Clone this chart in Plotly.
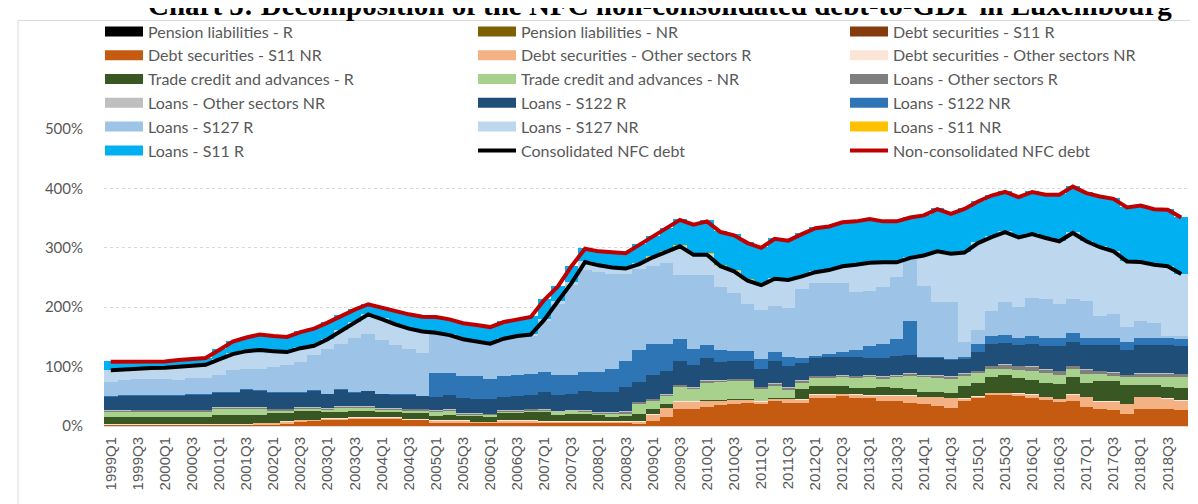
import plotly.graph_objects as go

# ---------------- data ----------------
quarters = [
    "1999Q1","1999Q2","1999Q3","1999Q4","2000Q1","2000Q2","2000Q3","2000Q4",
    "2001Q1","2001Q2","2001Q3","2001Q4","2002Q1","2002Q2","2002Q3","2002Q4",
    "2003Q1","2003Q2","2003Q3","2003Q4","2004Q1","2004Q2","2004Q3","2004Q4",
    "2005Q1","2005Q2","2005Q3","2005Q4","2006Q1","2006Q2","2006Q3","2006Q4",
    "2007Q1","2007Q2","2007Q3","2007Q4","2008Q1","2008Q2","2008Q3","2008Q4",
    "2009Q1","2009Q2","2009Q3","2009Q4","2010Q1","2010Q2","2010Q3","2010Q4",
    "2011Q1","2011Q2","2011Q3","2011Q4","2012Q1","2012Q2","2012Q3","2012Q4",
    "2013Q1","2013Q2","2013Q3","2013Q4","2014Q1","2014Q2","2014Q3","2014Q4",
    "2015Q1","2015Q2","2015Q3","2015Q4","2016Q1","2016Q2","2016Q3","2016Q4",
    "2017Q1","2017Q2","2017Q3","2017Q4","2018Q1","2018Q2","2018Q3","2018Q4",
]

tick_labels = [
    "1999Q1","1999Q3","2000Q1","2000Q3","2001Q1","2001Q3","2002Q1","2002Q3",
    "2003Q1","2003Q3","2004Q1","2004Q3","2005Q1","2005Q3","2006Q1","2006Q3",
    "2007Q1","2007Q3","2008Q1","2008Q3","2009Q1","2009Q3","2010Q1","2010Q3",
    "2011Q1","2011Q3","2012Q1","2012Q3","2013Q1","2013Q3","2014Q1","2014Q3",
    "2015Q1","2015Q3","2016Q1","2016Q3","2017Q1","2017Q3","2018Q1","2018Q3",
]

pension_r = [
    0,0,0,0,0,0,0,0,0,0, 0,0,0,0,0,0,0,0,0,0, 0,0,0,0,0,0,0,0,0,0, 0,0,0,0,0,0,0,0,0,0,
    0,0,0,0,0,0,0,0,0,0, 0,0,0,0,0,0,0,0,0,0, 0,0,0,0,0,0,0,0,0,0, 0,0,0,0,0,0,0,0,0,0,
]
pension_nr = [
    0.2,0.2,0.2,0.2,0.2,0.2,0.2,0.2,0.2,0.2, 0.2,0.2,0.2,0.2,0.2,0.2,0.2,0.2,0.2,0.2,
    0.2,0.2,0.2,0.2,0.2,0.2,0.2,0.2,0.2,0.2, 0.2,0.2,0.2,0.2,0.2,0.2,0.2,0.2,0.2,0.2,
    0.2,0.2,0.2,0.2,0.2,0.2,0.2,0.2,0.2,0.2, 0.2,0.2,0.2,0.2,0.2,0.2,0.2,0.2,0.2,0.2,
    0.2,0.2,0.2,0.2,0.2,0.2,0.2,0.2,0.2,0.2, 0.2,0.2,0.2,0.2,0.2,0.2,0.2,0.2,0.2,0.2,
]
debt_s11_r = [
    0.2,0.2,0.2,0.2,0.2,0.2,0.2,0.2,0.2,0.2, 0.2,0.2,0.2,0.2,0.2,0.2,0.2,0.2,0.2,0.2,
    0.2,0.2,0.2,0.2,0.2,0.2,0.2,0.2,0.2,0.2, 0.2,0.2,0.2,0.2,0.2,0.2,0.2,0.2,0.2,0.2,
    0.2,0.2,0.2,0.2,0.2,0.2,0.2,0.2,0.2,0.2, 0.2,0.2,0.2,0.2,0.2,0.2,0.2,0.2,0.2,0.2,
    0.2,0.2,0.2,0.2,0.2,0.2,0.2,0.2,0.2,0.2, 0.2,0.2,0.2,0.2,0.2,0.2,0.2,0.2,0.2,0.2,
]
debt_s11_nr = [
    1.5,1.5,1.5,1.5,1.5,1.5,1.5,1.5,1.5,1.5, 1.5,2,2,4,8,9,10,10,12,12,
    12,12,10,10,5.5,5.5,5.5,5.5,5.5,5.5, 5.5,5.5,5,5,5,5,5,5,5,3,
    8,15,28,28,32,35,36,38.5,36,41.5, 38.5,38.5,47,47,51.5,47,47,41.5,41.5,38.5,
    36,33,30,41,46,52.5,51.5,51.5,47,43, 40.5,42.5,31.5,29,26,20,29,27.5,27.5,26,
]
debt_other_r = [
    1,1,1,1,1,1,1,1,1,1, 1,3,3,3,2,1,2,2,2,2,
    2,2,1,1,3.5,3.5,3.5,1,1,4, 4,4,2,2,2,2,2,2,2,5,
    11,15,13.5,13.5,10,8,8,6,5.5,4.5, 7.5,6,5.5,5.5,2,5.5,4.5,10,10,13,
    12.5,15.5,17,5,4,3,4,3,5.5,5.5, 5,10,17,12.5,15.5,17,19.5,21,18.5,16.5,
]
debt_other_nr = [
    0.3,0.3,0.3,0.3,0.3,0.3,0.3,0.3,0.3,0.3, 0.3,0.3,0.3,0.3,0.3,0.3,0.3,0.3,0.3,0.3,
    0.3,0.3,0.3,0.3,0.3,0.3,0.3,0.3,0.3,0.3, 0.3,0.3,0.3,0.3,0.3,0.3,0.3,0.3,0.3,0.3,
    0.3,0.3,0.3,0.3,0.3,0.3,0.3,0.3,0.3,0.3, 0.3,0.3,0.3,0.3,0.3,0.3,0.3,0.3,0.3,0.3,
    0.3,0.3,0.3,0.3,0.3,0.3,0.3,0.3,0.3,0.3, 0.3,0.3,0.3,0.3,0.3,0.3,0.3,0.3,0.3,0.3,
]
trade_r = [
    12.5,12.5,12.5,12.5,12.5,12.5,12.5,12.5,15.5,15.5, 15.5,13,17,15,14,14,11.5,11.5,11,11,
    8.5,8.5,10,10,6.5,9,6.5,10.5,9,13, 13,14,17,10,13,12,10,8,9,12,
    9,7,0.5,0.5,0.5,0.5,0.5,0.5,0.5,0.5, 0.5,16.5,14.5,14.5,13.5,11.5,11,13.5,12.5,9.5,
    8.5,8.5,8.5,20,22.5,27,29,25,24,24, 25,30,24,33.5,33.5,31,19.5,19.5,19,20.5,
]
trade_nr = [
    8,8,9,9,9,9,9,9,10,10, 10,10,4,4,4,4,3.5,6.5,5,5,
    4.5,4.5,5,5,8.5,7,3.5,2,2.5,1.5, 1.5,2.5,2,6,5,5,4,5,4,16,
    14,13,23,20.5,30,30,31,30.5,20,21.5, 14.5,12,13.5,13.5,15,16.5,19.5,14.5,18,23.5,
    25,24.5,24,18,16.5,12.5,11.5,14,15.5,16.5, 15,12.5,15,11.5,8.5,14,14,14,17,18,
]
loans_other_r = [
    2.5,2.5,2.5,2.5,2.5,2.5,2.5,2.5,2,2, 2,2,2,2,2,2,2,2,2,2,
    2,2,2,2,2,2,2,2,1.5,2, 2,2,1.5,1,1,1,1,2,3.5,4,
    3,3,3.5,2,3,3,3,3,3,3, 3,3,3,3,3,3,3,3,3,3,
    3,3,3,3.5,3,5.5,7,7,7.5,6, 6.5,5.5,7.5,5.5,5.5,3.5,6,6,6,6,
]
loans_other_nr = [
    0.5,0.5,0.5,0.5,0.5,0.5,0.5,0.5,0.5,0.5, 0.5,0.5,0.5,0.5,0.5,0.5,0.5,0.5,0.5,0.5,
    0.5,0.5,0.5,0.5,0.5,0.5,0.5,0.5,0.5,0.5, 0.5,0.5,0.5,0.5,0.5,0.5,0.5,0.5,0.5,0.5,
    0.5,0.5,0.5,0.5,0.5,0.5,0.5,0.5,0.5,0.5, 0.5,0.5,0.5,0.5,0.5,0.5,0.5,0.5,0.5,0.5,
    0.5,0.5,0.5,0.5,0.5,0.5,0.5,0.5,0.5,0.5, 0.5,0.5,0.5,0.5,0.5,0.5,0.5,0.5,0.5,0.5,
]
loans_s122_r = [
    23,25,24,24,24,24,26,26,26,26, 30.5,28.5,28,28,26,28.5,24,28.5,24,26,
    24,22.5,23.5,21.5,21.5,23.5,25,24,24.5,21.5, 23.5,23.5,28,27.5,26.5,32,34.5,34.5,40.5,32.5,
    40,39,39.5,36.5,38,30,29.5,29.5,30,36.5, 36.5,29,31,31,29.5,31,28.5,30.5,31,30,
    29.5,30,28,24.5,31,36.5,35.5,35.5,37.5,39, 42,40.5,41,44,47,41.5,47,47,47,47,
]
loans_s122_nr = [
    0.5,0.5,0.5,0.5,0.5,0.5,0.5,0.5,0.5,0.5, 0.5,0.5,0.5,0.5,0.5,0.5,0.5,0.5,0.5,0.5,
    0.5,0.5,0.5,0.5,40.5,37.5,37,37.5,34.5,35.5, 35.5,35.5,33.5,33.5,32.5,32,32.5,38.5,44,54.5,
    52,45,37.5,28,21,21,17.5,17,16.5,15.5, 14,8,2.5,5.5,9.5,13,20.5,24,29,58.5,
    1,1,1,2.5,14,13,13.5,11,13,13, 13,14.5,11,11,11,14,12,12,12,12,
]
loans_s127_r = [
    23.5,24.5,27,27,27.5,25.5,26,26,28.5,36, 34.5,36.5,41,44.5,49.5,59,74.5,76,90.5,94.5,
    89.5,83,76,71,69,65,63,60.5,60,61, 63,63,86,120,151,172.5,168.5,160,147,136,
    132,135.5,107,123.5,118,105,97,79.5,82.5,78.5, 83,116.5,122,119,115,96.5,92.5,96.5,104,104,
    119.5,91.5,95.5,26.5,23.5,43,55,51.5,64,65.5, 57,57,62,37.5,40.5,24,28,25,3,4,
]
loans_s127_nr = [
    21,19.5,19,19,19,23,21.5,23.5,27,28.5, 30.5,32.5,28.5,23.5,25,17,18,23,27,35,
    37,36,36,38,0,0,0,0,0,3, 3.5,4,4,5,4.5,14.5,13,12,10,9.5,
    15,20.5,50.5,36.5,36.5,37,38.5,40.5,43,46.5, 48.5,22.5,20,23.5,30,47.5,48.5,42,26.5,3,
    52,87,83,151,147.5,125,119.5,119,109,104, 107,112.5,102,116.5,106.5,112,101,99.5,119,105,
]
loans_s11_nr = [
    0,0,0,0,0,0,0,0,0,0, 0,0,0,0,0,0,0,0,0,0, 0,0,0,0,0,0,0,0,0,0, 0,0,0,0,0,0,0,0,0,0,
    0.5,0.5,0.5,0.5,0.5,0.5,0.5,0.5,0.5,0.5, 0,0,0,0,0,0,0,0,0,0, 0,0,0,0,0,0,0,0,0,0, 0,0,0,0,0,0,0,0,0,0,
]
loans_s11_r = [
    14,12.5,10.5,10.5,10.5,11,11,11.5,16,21, 23,26,25.5,25.5,27,29,28,25,22,17,
    19,21.5,24,25,26.5,26.5,27,27,28,28, 28,29.5,33.5,25,28.5,22.5,23.5,25,26,32.5,
    35,39,44.5,50.5,56,57.5,60.5,63.5,63,67, 66,71,74,73.5,74,73,73.5,69,69,68,
    67.5,71,67,73.5,70,70,67.5,68,71,73, 78.5,78,81,85.5,88.5,91,95,93.5,95,95,
]
consolidated = [
    94,95.5,97.5,97.5,98,100,101,103,112,121, 126,128,126,124.5,131,135,146,160,174,188,
    180,171,164,159,157,153,146,143,138.5,147, 151.5,154,179,210,240.5,276,270.5,267,265,272.5,
    284,293,302.5,288.5,288.5,269,260.5,244.5,237,248, 246,252,259,262.5,269,271.5,275,275.5,275.5,283,
    287,294,290,292,308,318,326.5,317.5,323,316.5, 311,325,311,301,294,277,276,271.5,269,256,
]
non_consolidated = [
    108,108,108,108,108.5,111,112,114.5,128,142, 149,154,151.5,150,158,164,174,185,196,205,
    199,192.5,188,184,183.5,179.5,173,170,166.5,175, 179.5,183.5,212.5,235,269,298.5,294,292,291,305,
    319,332,347,339,344.5,326.5,321,308,300,315, 312,323,333,336,343,344.5,348.5,344.5,344.5,351,
    354.5,365,357,365.5,378,388,394,385.5,394,389.5, 389.5,403,392,386.5,382.5,368,371,365,364,351,
]

bar_series = [
    ("Pension liabilities - R", pension_r, "#000000"),
    ("Pension liabilities - NR", pension_nr, "#7F6000"),
    ("Debt securities - S11 R", debt_s11_r, "#843C0C"),
    ("Debt securities - S11 NR", debt_s11_nr, "#C55A11"),
    ("Debt securities - Other sectors R", debt_other_r, "#F4B183"),
    ("Debt securities - Other sectors NR", debt_other_nr, "#FBE5D6"),
    ("Trade credit and advances - R", trade_r, "#385723"),
    ("Trade credit and advances - NR", trade_nr, "#A9D18E"),
    ("Loans - Other sectors R", loans_other_r, "#7F7F7F"),
    ("Loans - Other sectors NR", loans_other_nr, "#BFBFBF"),
    ("Loans - S122 R", loans_s122_r, "#1F4E79"),
    ("Loans - S122 NR", loans_s122_nr, "#2E75B6"),
    ("Loans - S127 R", loans_s127_r, "#9DC3E6"),
    ("Loans - S127 NR", loans_s127_nr, "#BDD7EE"),
    ("Loans - S11 NR", loans_s11_nr, "#FFC000"),
    ("Loans - S11 R", loans_s11_r, "#00B0F0"),
]

legend_ids = ["legend", "legend2", "legend3"]

# ---------------- figure ----------------
fig = go.Figure()

for name, vals, color in bar_series:
    fig.add_trace(go.Bar(
        x=quarters, y=vals, name=name, marker=dict(color=color, line=dict(width=0)),
        showlegend=False, hoverinfo="x+y+name",
    ))

# legend-only entries with wide rectangular swatches, laid out in three columns
for k, (name, vals, color) in enumerate(bar_series):
    fig.add_trace(go.Scatter(
        x=[None], y=[None], mode="lines", name=name,
        line=dict(color=color, width=10), showlegend=True, hoverinfo="skip",
        legend=legend_ids[k % 3], legendgroup=name,
    ))

fig.add_trace(go.Scatter(
    x=quarters, y=consolidated, mode="lines", name="Consolidated NFC debt",
    line=dict(color="#000000", width=4), legend="legend2",
    legendgroup="Consolidated NFC debt",
))
fig.add_trace(go.Scatter(
    x=quarters, y=non_consolidated, mode="lines", name="Non-consolidated NFC debt",
    line=dict(color="#C00000", width=4), legend="legend3",
    legendgroup="Non-consolidated NFC debt",
))

L, R, T, B = 96, 18, 121, 86
W, H = 1198, 504
pw, ph = W - L - R, H - T - B

def px_x(px):
    return (px - L) / pw

def px_y(py):
    return (H - B - py) / ph

legend_style = dict(
    orientation="v", yanchor="top", xanchor="left",
    bgcolor="rgba(0,0,0,0)", font=dict(family="Lato", size=16, color="#595959"),
    itemwidth=38, traceorder="normal", tracegroupgap=0,
)

fig.update_layout(
    width=W, height=H,
    margin=dict(l=L, r=R, t=T, b=B, autoexpand=False),
    paper_bgcolor="white", plot_bgcolor="white",
    barmode="stack", bargap=0,
    font=dict(family="Lato", color="#595959"),
    legend=dict(x=px_x(92), y=px_y(6.5), **legend_style),
    legend2=dict(x=px_x(465), y=px_y(6.5), **legend_style),
    legend3=dict(x=px_x(837), y=px_y(6.5), **legend_style),
    xaxis=dict(
        type="category", categoryorder="array", categoryarray=quarters,
        range=[-0.5, len(quarters) - 0.5],
        tickmode="array", tickvals=tick_labels, ticktext=tick_labels,
        tickangle=-90, tickfont=dict(family="Liberation Sans", size=15, color="#595959"),
        showline=True, linecolor="#D9D9D9", linewidth=1, showgrid=False,
        ticks="", ticklabelstandoff=4,
    ),
    yaxis=dict(
        range=[0, 500], tickvals=[0, 100, 200, 300, 400, 500],
        ticktext=["0%", "100%", "200%", "300%", "400%", "500%"],
        tickfont=dict(family="Lato", size=15, color="#595959"),
        showgrid=True, gridcolor="#D9D9D9", griddash="dot", gridwidth=1,
        zeroline=False, showline=False, ticks="", ticklabelstandoff=20,
    ),
    shapes=[dict(
        type="rect", xref="paper", yref="paper",
        x0=px_x(10), x1=px_x(1230), y0=px_y(530), y1=px_y(12.5),
        line=dict(color="#D9D9D9", width=1), fillcolor="rgba(0,0,0,0)", layer="below",
    )],
    annotations=[dict(
        text="<b>Chart 5: Decomposition of the NFC non-consolidated debt-to-GDP in Luxembourg</b>",
        xref="paper", yref="paper", x=px_x(652), y=px_y(-2.5), xanchor="center", yanchor="middle",
        showarrow=False, font=dict(family="Liberation Serif", size=29, color="#000000"),
    )],
)

fig.write_html("out.html")
